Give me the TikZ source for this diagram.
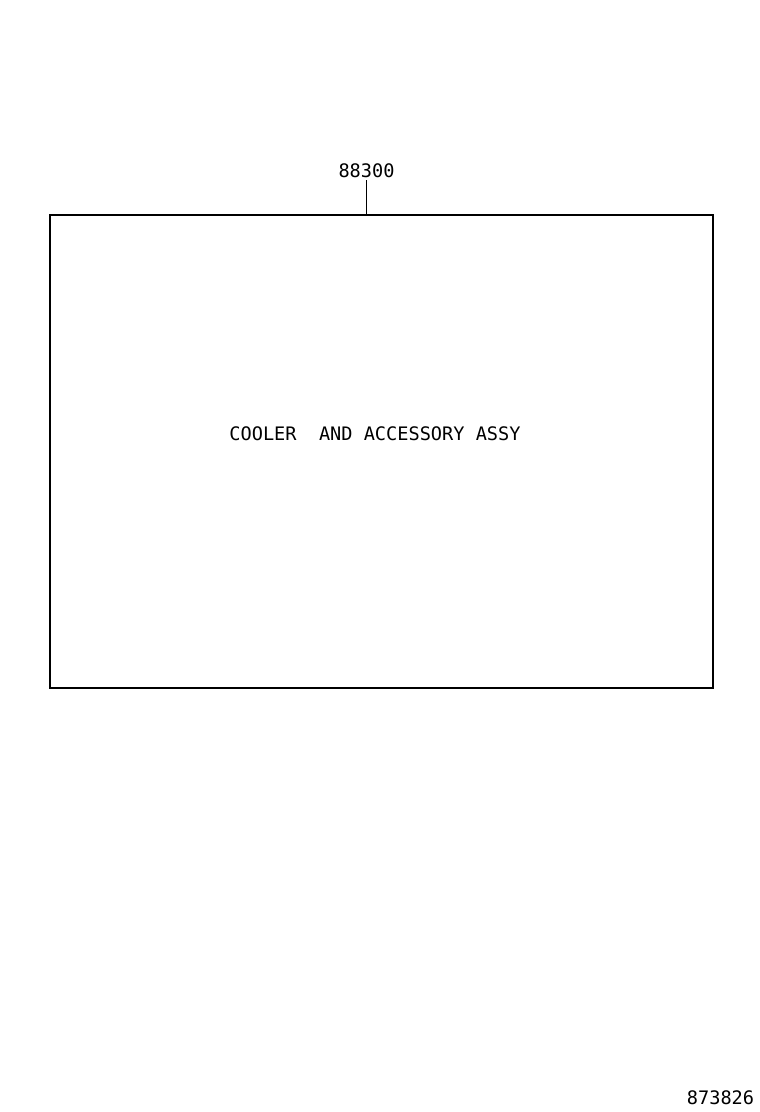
\documentclass[tikz,border=0pt]{standalone}
\usepackage{fontspec}
\setmonofont{DejaVu Sans Mono}
\usetikzlibrary{positioning}

\begin{document}
\begin{tikzpicture}[x=1pt,y=-1pt]
    \tikzstyle{every node}=[font=\ttfamily\fontsize{18.6}{20}\selectfont, inner sep=0pt]
    \tikzstyle{frame}=[draw=black, line width=1.6pt, rectangle, minimum width=663pt, minimum height=473pt]
    \tikzstyle{partno}=[anchor=base]
    \tikzstyle{leader}=[draw=black, line width=0.9pt]

    \useasboundingbox (0,0) rectangle (760,1112);

    \node[frame] (box) at (381.5,451.5) {};
    \node[partno] (part) at (366.5,177) {88300};
    \coordinate (tail) at (366.5,180);
    \coordinate (hook) at (tail |- box.north);
    \draw[leader] (tail) -- (hook);

    \node[partno] (title) at (375,440) {COOLER\ \ AND ACCESSORY ASSY};
    \node[partno] (drawno) at (720.5,1104) {873826};
\end{tikzpicture}
\end{document}
